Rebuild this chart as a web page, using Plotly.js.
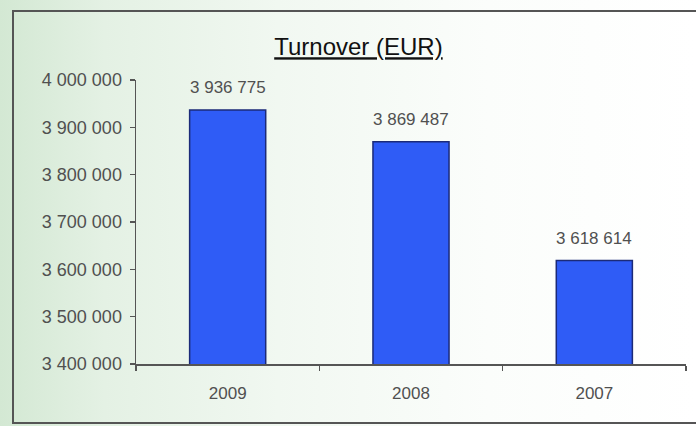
<!DOCTYPE html>
<html>
<head>
<meta charset="utf-8">
<script src="https://cdn.plot.ly/plotly-3.0.1.min.js"></script>
<style>
  html, body { margin:0; padding:0; }
  body { width:696px; height:426px; overflow:hidden;
    background: linear-gradient(to right, #d3e8d3 0%, #e4f1e4 15%, #f1f8f1 40%, #fbfdfb 70%, #ffffff 100%); }
  #chart { width:696px; height:426px; }
</style>
</head>
<body>
<div id="chart"></div>
<script>
const years = ["2009", "2008", "2007"];
const turnover = [3936775, 3869487, 3618614];
const chartTitle = "Turnover (EUR)";
const yTickVals = [3400000, 3500000, 3600000, 3700000, 3800000, 3900000, 4000000];

const fontFam = "Liberation Sans, Arial, sans-serif";
const W = 696, H = 426;
const m = { l: 136, r: 10, t: 80, b: 62 };
const pw = W - m.l - m.r, ph = H - m.t - m.b;
const px = x => (x - m.l) / pw;
const py = y => (H - m.b - y) / ph;

const trace = {
  type: "bar",
  x: years,
  y: turnover,
  marker: { color: "#2f5cf6", line: { color: "#1b2a78", width: 1.5 } },
  hoverinfo: "skip"
};

const annotations = years.map((yr, i) => ({
  x: i, y: turnover[i], xref: "x", yref: "y",
  text: turnover[i].toLocaleString("en-US").replace(/,/g, " "),
  showarrow: false, yanchor: "bottom", yshift: 11,
  font: { family: fontFam, size: 17, color: "#505050" }
}));

const layout = {
  width: W, height: H,
  margin: m,
  paper_bgcolor: "rgba(0,0,0,0)",
  plot_bgcolor: "rgba(0,0,0,0)",
  separators: ". ",
  showlegend: false,
  bargap: 0.585,
  title: { text: "<u>" + chartTitle + "</u>", x: 0.515, xanchor: "center", y: 0.89, yanchor: "middle",
           font: { family: fontFam, size: 24, color: "#111111" } },
  xaxis: {
    type: "category",
    range: [-0.5, 2.5],
    showline: true, linecolor: "#555", linewidth: 1.5,
    ticks: "outside", tickson: "boundaries", ticklen: 5, tickcolor: "#555", tickwidth: 1.5,
    ticklabelstandoff: 13,
    tickfont: { family: fontFam, size: 17, color: "#505050" },
    showgrid: false, zeroline: false
  },
  yaxis: {
    range: [3400000, 4000000],
    tickvals: yTickVals,
    tickformat: ",d",
    showline: true, linecolor: "#555", linewidth: 1.5,
    ticks: "outside", ticklen: 5, tickcolor: "#555", tickwidth: 1.5,
    ticklabelstandoff: 4,
    tickfont: { family: fontFam, size: 18, color: "#505050" },
    showgrid: false, zeroline: false
  },
  shapes: [{
    type: "rect", xref: "paper", yref: "paper",
    x0: px(13), x1: px(700), y0: py(423), y1: py(11),
    line: { color: "#555", width: 2 }, fillcolor: "rgba(0,0,0,0)"
  }],
  annotations: annotations
};

Plotly.newPlot("chart", [trace], layout, { displayModeBar: false, staticPlot: true });
</script>
</body>
</html>
